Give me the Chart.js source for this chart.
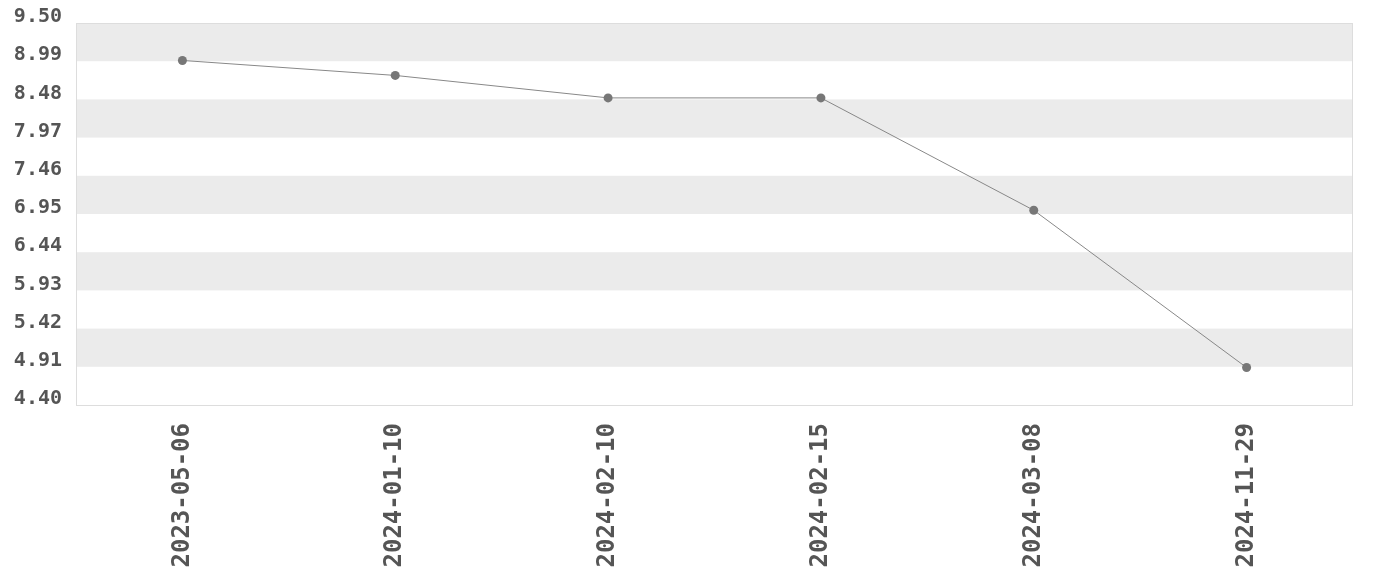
<!DOCTYPE html>
<html>
<head>
<meta charset="utf-8">
<script src="https://cdn.jsdelivr.net/npm/chart.js@4/dist/chart.umd.min.js"></script>
<style>
    html, body { margin: 0; padding: 0; background: #fff; }
    #wrap { width: 1380px; height: 580px; position: relative; }
</style>
</head>
<body>
<div id="wrap"><canvas id="lineChart"></canvas></div>
<script>
(function() {
    'use strict';

    const dates = ['2023-05-06', '2024-01-10', '2024-02-10', '2024-02-15', '2024-03-08', '2024-11-29'];
    const values = [9.0, 8.8, 8.5, 8.5, 7.0, 4.9];
    const yTicks = [4.40, 4.91, 5.42, 5.93, 6.44, 6.95, 7.46, 7.97, 8.48, 8.99, 9.50];

    const monoFont = '"DejaVu Sans Mono", "Liberation Mono", monospace';

    // alternating grey bands between the y ticks, plus the thin plot border
    const bandPlugin = {
        id: 'bands',
        beforeDatasetsDraw(chart) {
            const ctx = chart.ctx;
            const area = chart.chartArea;
            const y = chart.scales.y;
            ctx.save();
            ctx.fillStyle = '#ebebeb';
            for (let i = 1; i < yTicks.length - 1; i += 2) {
                const top = y.getPixelForValue(yTicks[i + 1]);
                const bottom = y.getPixelForValue(yTicks[i]);
                ctx.fillRect(area.left, top, area.right - area.left, bottom - top);
            }
            ctx.strokeStyle = '#dddddd';
            ctx.lineWidth = 1;
            ctx.strokeRect(area.left + 0.5, area.top + 0.5, area.right - area.left - 1, area.bottom - area.top);
            ctx.restore();
        }
    };

    new Chart(document.getElementById('lineChart'), {
        type: 'line',
        data: {
            labels: dates,
            datasets: [{
                data: values,
                borderColor: '#888888',
                borderWidth: 1,
                pointRadius: 4.5,
                pointBackgroundColor: '#777777',
                pointBorderWidth: 0,
                tension: 0,
                fill: false
            }]
        },
        options: {
            responsive: true,
            maintainAspectRatio: false,
            animation: false,
            layout: { padding: { top: 23, right: 27, left: 14, bottom: 0 } },
            plugins: { legend: { display: false }, tooltip: { enabled: false } },
            scales: {
                x: {
                    offset: true,
                    grid: { display: false, drawTicks: false },
                    border: { display: false },
                    afterFit(scale) {
                        scale.height = 175;
                        scale.paddingLeft = 0;
                        scale.paddingRight = 0;
                    },
                    ticks: {
                        minRotation: 90,
                        maxRotation: 90,
                        padding: 18,
                        color: '#555555',
                        font: { family: monoFont, size: 24, weight: 'bold' }
                    }
                },
                y: {
                    min: 4.4,
                    max: 9.5,
                    grid: { display: false, drawTicks: false },
                    border: { display: false },
                    afterBuildTicks(scale) {
                        scale.ticks = yTicks.map((v) => ({ value: v }));
                    },
                    afterFit(scale) {
                        scale.width = 62;
                        scale.paddingTop = 0;
                        scale.paddingBottom = 0;
                    },
                    ticks: {
                        padding: 14,
                        labelOffset: -6,
                        color: '#555555',
                        font: { family: monoFont, size: 20, weight: 'bold' },
                        callback: (v) => Number(v).toFixed(2)
                    }
                }
            }
        },
        plugins: [bandPlugin]
    });
})();
</script>
</body>
</html>
